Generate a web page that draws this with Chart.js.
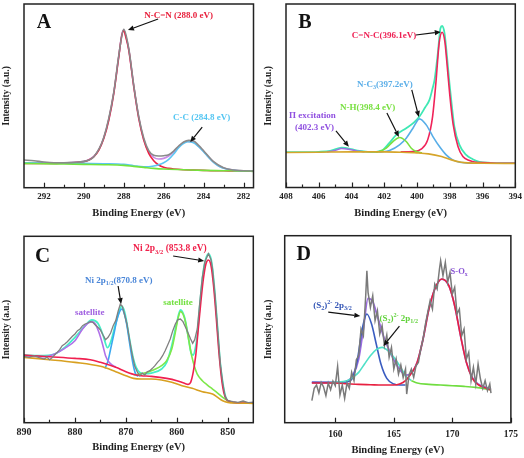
<!DOCTYPE html>
<html><head><meta charset="utf-8">
<script src="https://cdn.jsdelivr.net/npm/chart.js@4.4.1/dist/chart.umd.min.js"></script>
<style>
html,body{margin:0;padding:0;background:#fff;}
#wrap{position:relative;width:524px;height:458px;overflow:hidden;}
.pane{position:absolute;width:262px;height:229px;}
canvas{display:block;}
</style></head><body>
<div id="wrap">
<div class="pane" style="left:0;top:0"><canvas id="cA" width="262" height="229"></canvas></div>
<div class="pane" style="left:262px;top:0"><canvas id="cB" width="262" height="229"></canvas></div>
<div class="pane" style="left:0;top:229px"><canvas id="cC" width="262" height="229"></canvas></div>
<div class="pane" style="left:262px;top:229px"><canvas id="cD" width="262" height="229"></canvas></div>
</div>
<script>
// ---------------- Panel A : C 1s ----------------
const aTicks = [282,284,286,288,290,292];
const aMinor = [283,285,287,289,291];
const aGrayE = [293.0,292.5,292,291.5,291,290.5,290,289.5,289,288.5,288.25,288,287.75,287.5,287.25,287,286.75,286.5,286.25,286,285.75,285.5,285.25,285,284.75,284.5,284.25,284,283.5,283,282.5,282,281.5];
const aGrayI = [83,81,77,75,75,76,79,93,151,287,397,475,417,307,213,149,111,97,95,96,99,110,125,137,142,140,127,111,78,60,53,51,50];
const aBgE = [293,292,291,290,289,288,287.5,287,286.5,286,285,284,283,282,281.5];
const aBgI = [73,72,71,70,69,67,64,61,58,56,54,52,51,50,49];
const aCCE = [293,292,291,290,289,288,287.5,287,286.75,286.5,286.25,286,285.75,285.5,285.25,285,284.8,284.5,284.25,284,283.75,283.5,283.25,283,282.5,282,281.5];
const aCCI = [75,74,74,73,72,70,66,63,63,65,69,75,85,101,120,133,138,135,123,108,91,76,65,58,52,50,50];
const aNCNE = [293,292.5,292,291.5,291,290.5,290,289.75,289.5,289.25,289,288.75,288.5,288.25,288.1,288,287.9,287.75,287.5,287.25,287,286.75,286.5,286.25,286,285.75,285.5,285,284.5,284,283.5,283,282.5,282,281.5];
const aNCNI = [73,73,73,73,74,75,78,83,93,113,148,203,283,393,456,471,452,413,303,208,143,103,81,68,61,58,56,54,53,52,51,51,50,50,50];
const aEnvE = [293,292.5,292,291,290.5,290,289.75,289.5,289.25,289,288.75,288.5,288.25,288.1,288,287.9,287.75,287.5,287.25,287,286.75,286.5,286.25,286,285.75,285.5,285.25,285,284.8,284.5,284.25,284,283.75,283.5,283.25,283,282.5,282,281.5];
const aEnvI = [75,74,74,74,76,79,84,94,114,150,205,285,395,460,473,455,415,305,211,145,108,91,86,88,95,107,123,135,139,136,124,109,92,77,66,59,53,50,50];

// ---------------- Panel B : N 1s ----------------
const bTicks = [394,396,398,400,402,404,406,408];
const bMinor = [395,397,399,401,403,405,407];
const bBgE = [408,406,404,402,401,400,399.3,398.5,397.9,397.3,396.9,396,394];
const bBgI = [105,106,107,107,106,104,101,93,83,76,74,73,72];
const bPiE = [405.5,405,404.6,404.2,403.7,403.2];
const bPiI = [107,111,117,115,110,107];
const bNHE = [402.5,402.3,401.88,401.47,401.06,400.66,400.35,400.05,399.7];
const bNHI = [106,108,118,138,150,138,118,108,104];
const bNC3E = [402.3,401.68,401.07,400.66,400.25,399.85,399.44,399.03,398.63,398.22,397.82,397.4,397.0,396.5];
const bNC3I = [106,111,128,148,178,206,188,153,123,98,83,76,74,73];
const bCNCE = [401,400.25,399.75,399.35,399.05,398.85,398.65,398.47,398.3,398.2,398.0,397.8,397.5,397.2,396.8,396.4,396,395,394];
const bCNCI = [107,108,115,143,213,313,433,466,438,388,278,191,123,93,81,76,75,73,73];
const bEnvE = [408,407,406,405.3,404.9,404.6,404.3,404,403.5,403,402.6,402.3,402.08,401.7,401.27,400.66,400.2,399.85,399.5,399.24,399.05,398.93,398.73,398.57,398.47,398.32,398.17,398.02,397.87,397.72,397.41,397.0,396.6,396.2,395.5,394.5,394];
const bEnvI = [106,106,107,110,116,120,118,115,110,107,106,109,113,133,158,178,195,213,241,263,298,323,403,478,485,463,393,313,243,183,128,98,85,77,74,73,73];

// ---------------- Panel C : Ni 2p ----------------
const cTicks = [850,860,870,880,890];
const cMinor = [855,865,875,885];
const cGrayE = [890,889,888,887,886,885.5,885,884.5,884,883.5,883,882.5,882,881.5,881,880.5,880,879.5,879,878.5,878,877.5,877,876.5,876,875.5,875,874.5,874,873.5,873,872.5,872,871.5,871.1,870.7,870.3,869.8,869.3,868.8,868.3,867.8,867.3,866.8,866.3,865.8,865.3,864.8,864.3,863.8,863.3,862.8,862.3,861.8,861.3,860.8,860.3,859.8,859.3,858.8,858.3,857.8,857.3,856.9,856.5,856,855.5,855,854.5,853.8,853.3,853,852.5,852,851.5,851,850.5,850,849,848,847,846,845];
const cGrayI = [199,196,201,195,191,197,189,195,203,211,219,231,236,243,251,259,266,276,281,291,296,299,303,301,293,286,278,263,249,256,269,291,306,336,356,349,326,296,251,206,171,153,141,149,143,153,156,163,171,181,189,201,216,233,251,276,296,309,311,303,286,269,251,238,249,281,361,436,483,507,489,461,381,281,181,119,76,66,63,61,65,60,62];
const cBgE = [890,885,880,875,872,870,868.5,867,865,863,861,859,857,855,853,852,851,850,848,845];
const cBgI = [196,189,181,169,153,141,133,131,131,128,121,111,103,93,86,76,66,61,59,58];
const cP32E = [890,885,880,877,875,872,870,868,867,865,862,860,858.5,857.8,857.3,856.8,856.3,855.8,855.3,854.8,854.3,853.8,853.3,852.8,852.3,851.8,851.3,850.8,850.3,850,849,847,845];
const cP32I = [203,198,193,189,181,166,153,143,141,139,133,126,118,115,121,151,201,281,361,431,476,488,471,411,321,221,141,91,71,66,61,59,59];
const cSat1E = [890,886,884,882,880,878.5,877.5,876.7,876,875.3,874.6,874,873.3,872.5,872];
const cSat1I = [201,198,206,223,246,281,298,303,296,271,236,201,181,171,167];
const cP12E = [874.1,873.5,873,872.4,871.8,871.3,870.8,870.3,869.8,869.2,868.6,868.1,867.6];
const cP12I = [163,186,221,263,306,331,341,326,291,231,176,146,139];
const cSat2E = [868.5,866.5,864.5,863,862,861,860.3,859.8,859.3,858.8,858.3,857.7,857.1,856.5,856,855,854,853,852,851,850,849];
const cSat2I = [143,148,159,171,186,221,271,311,333,326,301,251,201,166,146,126,113,101,89,76,66,61];
const cEnvE = [890,887,884,882,880,878,876.7,875.5,874.5,873.6,872.9,872.2,871.5,871.1,870.8,870.4,869.9,869.3,868.6,868,867.3,866.5,865,863,862,861,860,859.3,858.5,857.8,857.2,856.8,856.4,856,855.5,855,854.5,853.8,853.3,853,852.5,852,851.5,851,850.5,850,849,847,845];
const cEnvI = [203,201,206,226,256,291,308,298,263,225,246,286,326,344,349,339,306,251,196,166,151,147,149,161,181,231,301,338,316,261,209,203,221,261,351,431,481,506,491,461,381,281,181,121,81,66,61,59,59];

// ---------------- Panel D : S 2p ----------------
const dTicks = [160,165,170,175];
const dMinor = [];
const dGrayE = [158.0,158.2,158.4,158.6,158.8,159.0,159.2,159.4,159.6,159.8,160.0,160.2,160.4,160.6,160.8,161.0,161.2,161.4,161.6,161.8,162.0,162.2,162.4,162.6,162.7,162.8,163.0,163.2,163.4,163.6,163.8,164.0,164.2,164.4,164.6,164.8,165.0,165.2,165.4,165.6,165.8,166.0,166.1,166.3,166.5,166.7,166.9,167.1,167.3,167.5,167.7,167.9,168.1,168.3,168.5,168.7,168.9,169.0,169.2,169.4,169.6,169.8,170.0,170.2,170.4,170.6,170.8,171.0,171.2,171.4,171.6,171.8,172.0,172.2,172.4,172.6,172.8,173.0,173.2,173.3];
const dGrayI = [66,103,113,89,121,107,81,119,99,125,111,169,83,113,73,119,103,151,126,189,201,281,261,381,456,391,346,381,306,336,266,291,231,263,196,226,161,191,146,173,136,161,86,143,161,136,171,181,221,251,296,331,366,341,416,401,461,486,441,481,421,451,386,406,326,341,261,281,191,211,126,166,116,176,131,103,126,96,116,89];
const dRedE = [158,160,161,162,163,164,165,165.5,166,166.3,166.6,167,167.5,168,168.5,169.1,169.7,170.2,170.7,171.2,171.7,172.2,172.7,173.3];
const dRedI = [119,119,117,115,114,113,113,116,126,139,153,181,251,341,401,431,411,351,261,181,134,114,106,98];
const dS32E = [158,160,161,161.5,161.9,162.3,162.7,163.1,163.5,163.9,164.4,165,165.5,166];
const dS32I = [121,121,123,136,191,281,326,296,236,176,133,116,113,113];
const dS12E = [159.5,160,161,161.5,162,162.5,163,163.5,164,164.5,165,165.5,166,166.5];
const dS12I = [120,121,126,136,151,176,201,219,226,216,196,171,141,126];
const dTailE = [166.5,167,168,169,170,171,172,173.3];
const dTailI = [126,119,115,113,111,109,106,99];
const dEnvE = [158,159,160,160.5,161,161.5,162,162.4,162.8,163.2,163.6,164.2,164.7,165.2,165.7,166.1,166.5,167,167.5,168,168.5,169.1,169.7,170.2,170.7,171.2,171.7,172.2,172.7,173.3];
const dEnvI = [121,120,120,121,124,141,191,281,373,363,319,251,211,176,151,143,149,181,251,341,401,431,411,351,261,181,136,116,108,101];

// ---------------- drawing ----------------
const FONT = '"Liberation Serif","Times New Roman",serif';
const zip = (xs, ys) => xs.map((x, i) => ({x, y: ys[i]}));
function ds(xs, ys, color, width, smooth) {
  return {data: zip(xs, ys), borderColor: color, borderWidth: width, pointRadius: 0,
          fill: false, cubicInterpolationMode: smooth === false ? 'default' : 'monotone', tension: 0};
}

const DECO = {
  cA: {majors: aTicks, minors: aMinor, letter: {t:'A', x:292.0, y:494, size:20},
    labels: [
      {x:286.98, y:515, size:9, color:'#e8203c', parts:[['N-C=N (288.0 eV)','n']]},
      {x:285.53, y:209, size:9, color:'#55c6f2', parts:[['C-C (284.8 eV)','n']]}
    ],
    arrows: [[286.28,506,287.79,473],[284.07,182,284.67,137]]},
  cB: {majors: bTicks, minors: bMinor, letter: {t:'B', x:406.84, y:494, size:20},
    labels: [
      {x:403.98, y:455, size:9, color:'#ee2255', parts:[['C=N-C(396.1eV)','n']]},
      {x:403.67, y:308, size:9, color:'#5aaee8', parts:[['N-C','n'],['3','sub'],['(397.2eV)','n']]},
      {x:404.71, y:239, size:9, color:'#78e040', parts:[['N-H(398.4 eV)','n']]},
      {x:407.82, y:215, size:9, color:'#9050e0', parts:[['\u03A0 excitation','n']]},
      {x:407.45, y:179, size:9, color:'#9050e0', parts:[['(402.3 eV)','n']]}
    ],
    arrows: [[400.07,458,398.55,467],[400.32,293,399.89,212],[401.84,224,401.11,152],[404.95,170,404.16,122]]},
  cC: {majors: cTicks, minors: cMinor, letter: {t:'C', x:886.37, y:498.5, size:21},
    labels: [
      {x:868.59, y:521, size:9.5, color:'#f0204a', parts:[['Ni 2p','n'],['3/2','sub'],[' (853.8 eV)','n']]},
      {x:878.02, y:425, size:9, color:'#4a86d8', parts:[['Ni 2p','n'],['1/2','sub'],['(870.8 eV)','n']]},
      {x:879.98, y:329, size:9, color:'#a060e0', parts:[['satellite','n']]},
      {x:862.69, y:359, size:9, color:'#72e040', parts:[['satellite','n']]}
    ],
    arrows: [[860.73,500,854.64,485],[871.53,410,870.94,356]]},
  cD: {majors: dTicks, minors: dMinor, letter: {t:'D', x:157.3, y:503, size:20},
    labels: [
      {x:169.85, y:452, size:8.5, color:'#8a55d5', parts:[['S-O','n'],['x','sub']]},
      {x:158.11, y:350, size:9, color:'#3355b5', parts:[['(S','n'],['2','sub'],[')','n'],['2-','sup'],[' 2p','n'],['3/2','sub']]},
      {x:163.77, y:311, size:9, color:'#62d23c', parts:[['(S','n'],['2','sub'],[')','n'],['2-','sup'],[' 2p','n'],['1/2','sub']]}
    ],
    arrows: [[159.4,332,162.14,320],[165.48,290,164.11,230]]}
};

function drawRich(ctx, x, y, parts, size, color) {
  let cx = x;
  ctx.fillStyle = color; ctx.textAlign = 'left'; ctx.textBaseline = 'middle';
  for (const [t, k] of parts) {
    const s = k === 'n' ? size : size * 0.68;
    ctx.font = `bold ${s}px ${FONT}`;
    const dy = k === 'sub' ? size * 0.3 : (k === 'sup' ? -size * 0.35 : 0);
    ctx.fillText(t, cx, y + dy);
    cx += ctx.measureText(t).width;
  }
}
function arrow(ctx, x1, y1, x2, y2) {
  const a = Math.atan2(y2 - y1, x2 - x1), L = 6, W = 2.6;
  ctx.strokeStyle = '#111'; ctx.fillStyle = '#111'; ctx.lineWidth = 1.2;
  ctx.beginPath(); ctx.moveTo(x1, y1);
  ctx.lineTo(x2 - L * Math.cos(a), y2 - L * Math.sin(a)); ctx.stroke();
  ctx.beginPath(); ctx.moveTo(x2, y2);
  ctx.lineTo(x2 - L * Math.cos(a) + W * Math.sin(a), y2 - L * Math.sin(a) - W * Math.cos(a));
  ctx.lineTo(x2 - L * Math.cos(a) - W * Math.sin(a), y2 - L * Math.sin(a) + W * Math.cos(a));
  ctx.closePath(); ctx.fill();
}

const decoPlugin = {
  id: 'deco',
  afterDatasetsDraw(chart) {
    const d = DECO[chart.canvas.id];
    const {ctx, chartArea: ca} = chart;
    const xs = chart.scales.x, ys = chart.scales.y;
    ctx.save();
    ctx.strokeStyle = '#222'; ctx.lineWidth = 1.2;
    for (const v of d.majors) {
      const px = Math.round(xs.getPixelForValue(v)) + 0.5;
      ctx.beginPath(); ctx.moveTo(px, ca.bottom); ctx.lineTo(px, ca.bottom - 5); ctx.stroke();
    }
    for (const v of d.minors) {
      const px = Math.round(xs.getPixelForValue(v)) + 0.5;
      ctx.beginPath(); ctx.moveTo(px, ca.bottom); ctx.lineTo(px, ca.bottom - 3); ctx.stroke();
    }
    ctx.lineWidth = 1.5; ctx.strokeStyle = '#222';
    ctx.strokeRect(ca.left, ca.top, ca.right - ca.left, ca.bottom - ca.top);
    ctx.fillStyle = '#111'; ctx.textAlign = 'center'; ctx.textBaseline = 'middle';
    ctx.font = `bold ${d.letter.size}px ${FONT}`;
    ctx.fillText(d.letter.t, xs.getPixelForValue(d.letter.x), ys.getPixelForValue(d.letter.y));
    for (const L of d.labels) drawRich(ctx, xs.getPixelForValue(L.x), ys.getPixelForValue(L.y), L.parts, L.size, L.color);
    for (const a of d.arrows) arrow(ctx, xs.getPixelForValue(a[0]), ys.getPixelForValue(a[1]), xs.getPixelForValue(a[2]), ys.getPixelForValue(a[3]));
    ctx.restore();
  }
};

function makeChart(id, datasets, cfg) {
  const ticks = DECO[id].majors;
  return new Chart(document.getElementById(id), {
    type: 'line',
    data: {datasets},
    plugins: [decoPlugin],
    options: {
      responsive: false, animation: false, events: [],
      layout: {padding: {top: cfg.top, right: cfg.right, left: 0, bottom: 0}},
      plugins: {legend: {display: false}, tooltip: {enabled: false}},
      scales: {
        x: {type: 'linear', min: cfg.xmin, max: cfg.xmax, reverse: cfg.reverse,
            grid: {display: false, drawTicks: false}, border: {display: false},
            afterBuildTicks: s => { s.ticks = ticks.map(v => ({value: v})); },
            afterFit: s => { s.height = 229 - cfg.bottom; },
            ticks: {autoSkip: false, maxRotation: 0, padding: cfg.tickPad, color: '#222',
                    font: {family: FONT, size: cfg.tickSize, weight: 'bold'}},
            title: {display: true, text: 'Binding Energy (eV)', color: '#222',
                    font: {family: FONT, size: 10.5, weight: 'bold'}, padding: {top: 0, bottom: cfg.titlePad}}},
        y: {type: 'linear', min: 0, max: cfg.ymax,
            grid: {display: false, drawTicks: false}, border: {display: false},
            ticks: {display: false},
            afterFit: s => { s.width = cfg.left; },
            title: {display: true, text: 'Intensity (a.u.)', color: '#222',
                    font: {family: FONT, size: 9.5, weight: 'bold'}, padding: {top: 0.5, bottom: 0}}}
      }
    }
  });
}

makeChart('cA', [
  ds(aGrayE, aGrayI, '#8a8a8a', 1.6),
  ds(aBgE, aBgI, '#74e43c', 1.6),
  ds(aCCE, aCCI, '#5cc6f2', 1.6),
  ds(aNCNE, aNCNI, '#ec2244', 1.6),
  ds(aEnvE, aEnvI, '#c98be6', 1.6)
], {xmin: 281.5, xmax: 293, reverse: true, ymax: 551, top: 4, right: 8.5, left: 24, bottom: 187.7, tickPad: 3.5, tickSize: 9, titlePad: 9.4});

makeChart('cB', [
  ds(bBgE, bBgI, '#d6a52a', 1.6),
  ds(bPiE, bPiI, '#a070e0', 1.5),
  ds(bNHE, bNHI, '#7ae040', 1.6),
  ds(bNC3E, bNC3I, '#58aee8', 1.6),
  ds(bCNCE, bCNCI, '#f0245a', 1.6),
  ds(bEnvE, bEnvI, '#3fe8b4', 1.8)
], {xmin: 394, xmax: 408, reverse: true, ymax: 551, top: 4, right: 8.7, left: 24, bottom: 187.5, tickPad: 3.5, tickSize: 9, titlePad: 9.4});

makeChart('cC', [
  ds(cGrayE, cGrayI, '#808080', 1.3, false),
  ds(cBgE, cBgI, '#d8a020', 1.6),
  ds(cP32E, cP32I, '#f02050', 1.6),
  ds(cSat1E, cSat1I, '#b070e8', 1.6),
  ds(cP12E, cP12I, '#3aa8f0', 1.6),
  ds(cSat2E, cSat2I, '#7ee84a', 1.6),
  ds(cEnvE, cEnvI, '#45f0c8', 1.8)
], {xmin: 845, xmax: 890, reverse: true, ymax: 559, top: 7.3, right: 8.7, left: 24, bottom: 193.7, tickPad: 3.3, tickSize: 10, titlePad: 4.4});

makeChart('cD', [
  ds(dGrayE, dGrayI, '#7a7a7a', 1.5, false),
  ds(dRedE, dRedI, '#e82040', 1.6),
  ds(dTailE, dTailI, '#70dd40', 1.6),
  ds(dS12E, dS12I, '#50e0c8', 1.6),
  ds(dS32E, dS32I, '#3a5cc0', 1.6),
  ds(dEnvE, dEnvI, '#9a6ae0', 1.8)
], {xmin: 155.68, xmax: 175, reverse: false, ymax: 561, top: 6.7, right: 9.7, left: 22.7, bottom: 193.7, tickPad: 6, tickSize: 9.5, titlePad: 1});
</script>
</body></html>
